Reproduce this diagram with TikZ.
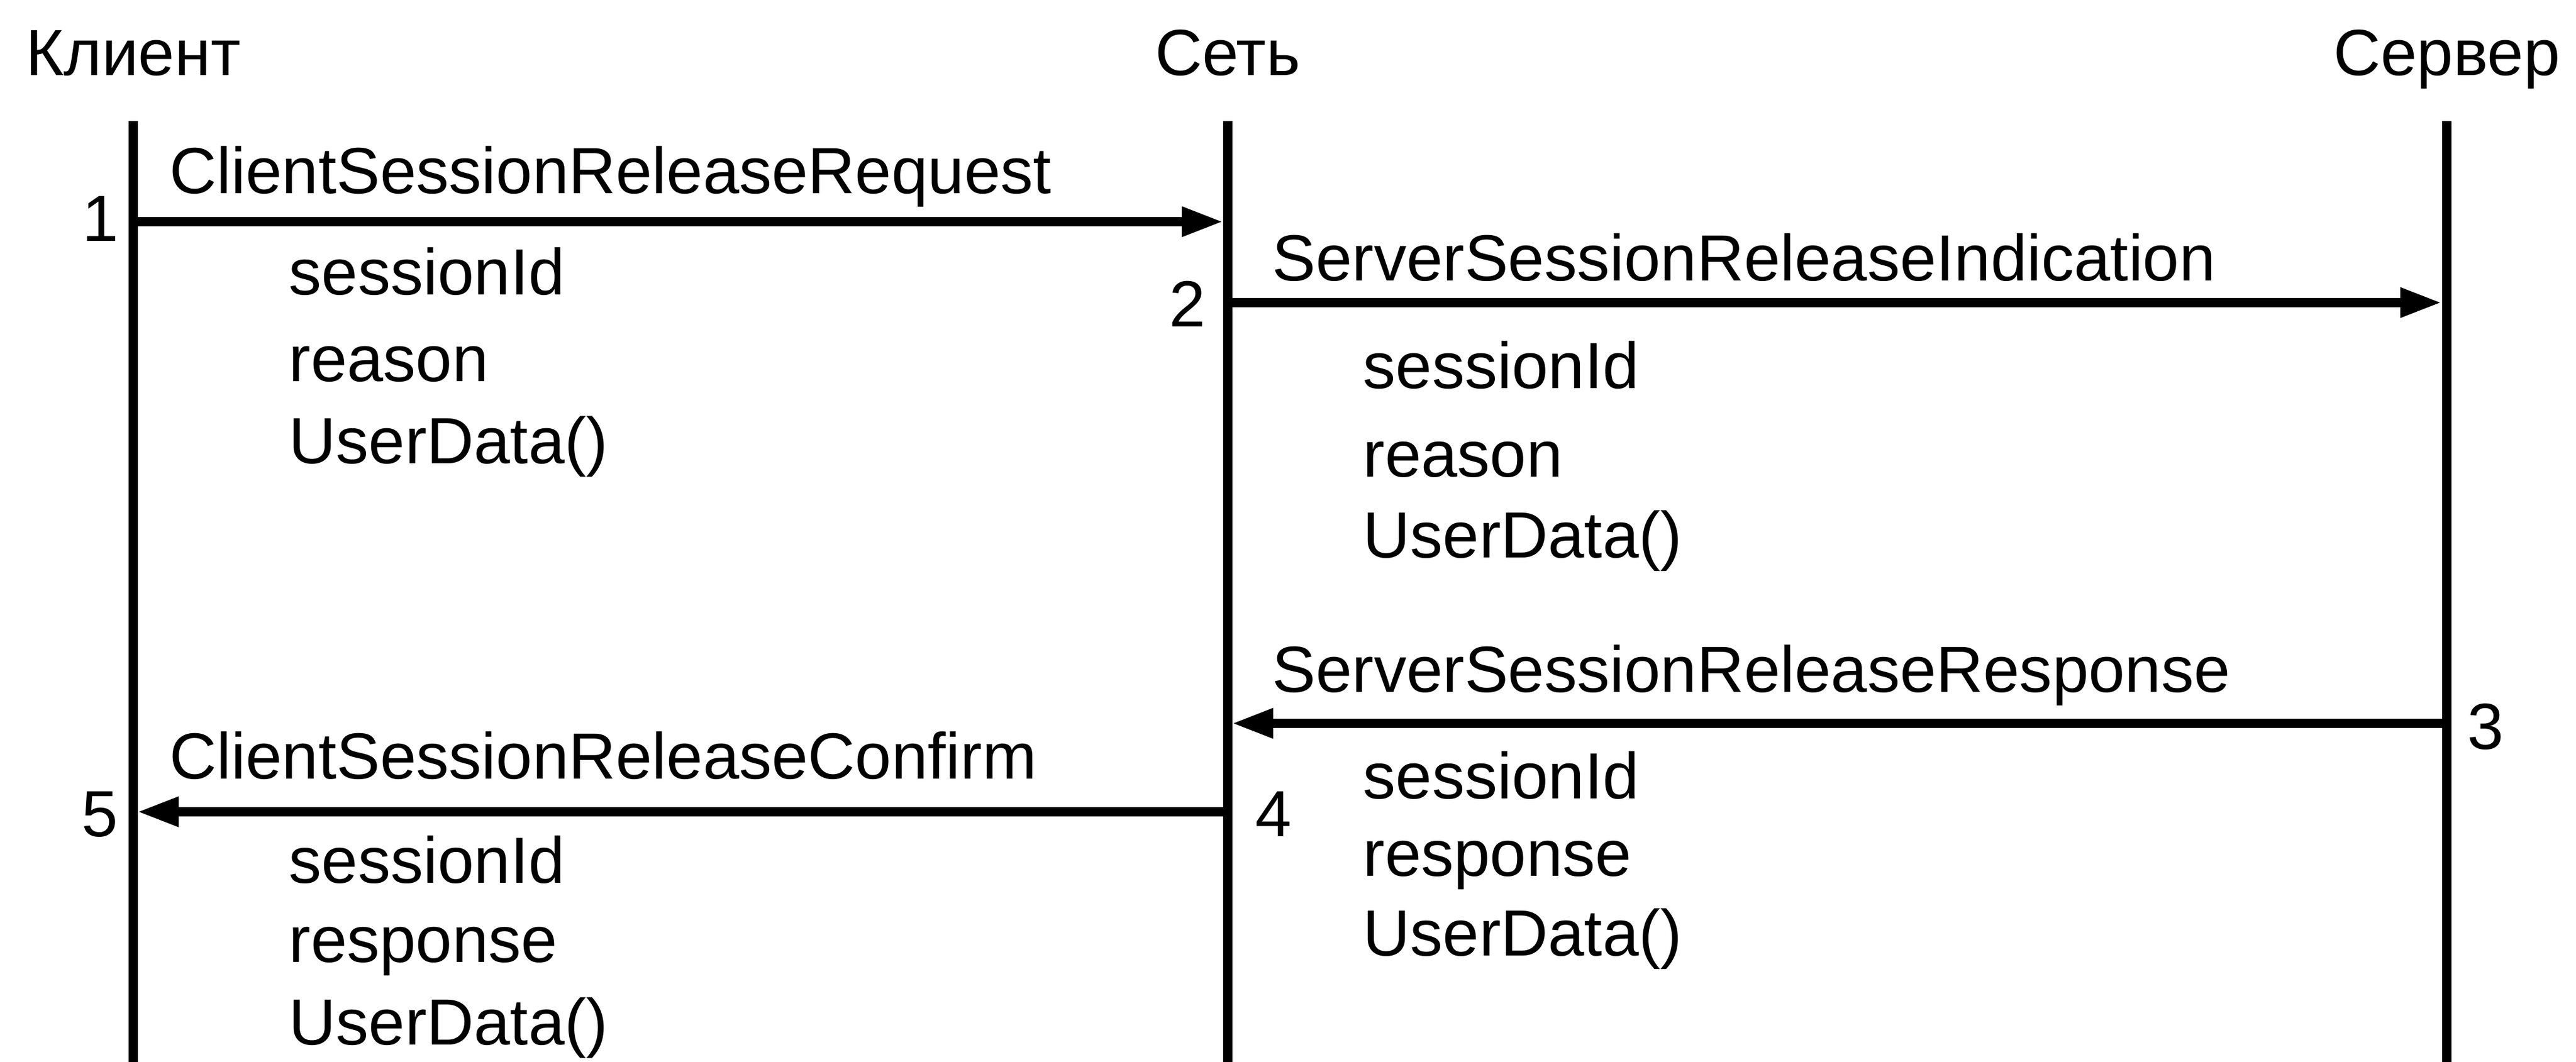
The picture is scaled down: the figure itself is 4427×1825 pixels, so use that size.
\documentclass[tikz,border=0pt]{standalone}
\usepackage{fontspec}
\setmainfont{Liberation Sans}
\usetikzlibrary{arrows.meta}
\begin{document}
\begin{tikzpicture}[x=0.01cm,y=-0.01cm,
  txt/.style={inner sep=0pt, anchor=base west, font=\fontsize{31.9pt}{38pt}\selectfont},
  hdr/.style={inner sep=0pt, anchor=base, font=\fontsize{31.9pt}{38pt}\selectfont},
  num/.style={inner sep=0pt, anchor=base, font=\fontsize{31.9pt}{38pt}\selectfont},
  life/.style={line width=0.155cm},
  msg/.style={line width=0.155cm, -{Triangle[length=0.71cm,width=0.48cm]}}]
\useasboundingbox (0,0) rectangle (4427,1825);

% headers
\node[hdr] (hC) at (229,130) {Клиент};
\node[hdr] (hN) at (2110,130) {Сеть};
\node[hdr] (hS) at (4205,130) {Сервер};

% lifelines
\coordinate (cTop) at (229,208);  \coordinate (cBot) at (229,1825);
\coordinate (nTop) at (2110,208); \coordinate (nBot) at (2110,1825);
\coordinate (sTop) at (4205,208); \coordinate (sBot) at (4205,1825);
\draw[life] (cTop) -- (cBot);
\draw[life] (nTop) -- (nBot);
\draw[life] (sTop) -- (sBot);

% message end points
\coordinate (m1a) at (229,381);  \coordinate (m1b) at (2102,381);
\coordinate (m2a) at (2110,520); \coordinate (m2b) at (4196,520);
\coordinate (m3a) at (4205,1243); \coordinate (m3b) at (2117,1243);
\coordinate (m4a) at (2110,1395); \coordinate (m4b) at (236,1395);

\draw[msg] (m1a) -- (m1b);
\draw[msg] (m2a) -- (m2b);
\draw[msg] (m3a) -- (m3b);
\draw[msg] (m4a) -- (m4b);

% message labels
\node[txt] (l1) at (291,333) {ClientSessionReleaseRequest};
\node[txt] (l2) at (2186,483) {ServerSessionReleaseIndication};
\node[txt] (l3) at (2186,1189) {ServerSessionReleaseResponse};
\node[txt] (l4) at (291,1338) {ClientSessionReleaseConfirm};

% step numbers
\node[num] (n1) at (173,415) {1};
\node[num] (n2) at (2041,562) {2};
\node[num] (n3) at (4272,1287) {3};
\node[num] (n4) at (2189,1437) {4};
\node[num] (n5) at (172,1437) {5};

% parameters
\node[txt] (p1a) at (496,507) {sessionId};
\node[txt] (p1b) at (496,656) {reason};
\node[txt] (p1c) at (496,797) {UserData()};

\node[txt] (p2a) at (2342,668) {sessionId};
\node[txt] (p2b) at (2342,820) {reason};
\node[txt] (p2c) at (2342,958) {UserData()};

\node[txt] (p3a) at (2342,1372) {sessionId};
\node[txt] (p3b) at (2342,1505) {response};
\node[txt] (p3c) at (2342,1642) {UserData()};

\node[txt] (p4a) at (496,1517) {sessionId};
\node[txt] (p4b) at (496,1653) {response};
\node[txt] (p4c) at (496,1795) {UserData()};
\end{tikzpicture}
\end{document}
